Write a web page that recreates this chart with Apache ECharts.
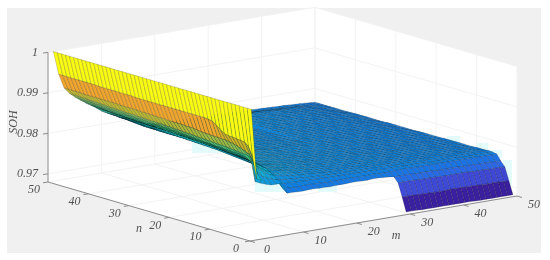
<!DOCTYPE html>
<html>
<head>
<meta charset="utf-8">
<style>html,body{margin:0;padding:0;background:#fff}#main{width:550px;height:260px}</style>
<script src="https://cdn.jsdelivr.net/npm/echarts@6/dist/echarts.min.js"></script>
</head>
<body>
<div id="main"></div>
<script>
const _ = null;
const mTicks = [0, 10, 20, 30, 40, 50];
const nTicks = [0, 10, 20, 30, 40, 50];
const sohTicks = [0.97, 0.98, 0.99, 1];
const sohTickLabels = ["0.97", "0.98", "0.99", "1"];
const sohBase = 0.96; // table below is in 1e-4 above this
const sohFloor = 0.968;
const sohTop = 1;
const parula = ["#3a1f9e", "#3f58e8", "#0c80e2", "#10b0d6", "#37c88a", "#c8b428", "#ffa030", "#f9fb14"];

// one row per n (1..50), one column per m (1..50)
const sohTable = [
[400,226,220,_,_,_,_,_,_,_, _,_,_,_,_,_,_,_,_,_, _,_,_,_,_,_,_,_,_,82, 82,82,81,81,81,81,81,81,81,81, 81,81,80,80,80,80,80,80,80,80],
[400,278,231,_,_,_,_,_,_,_, _,_,_,_,_,_,_,_,_,_, _,_,_,_,_,_,_,_,_,116, 116,116,115,115,115,114,114,114,115,115, 115,114,114,114,113,113,113,113,112,112],
[400,300,258,_,_,_,_,_,_,_, _,_,_,_,_,_,_,_,_,_, _,_,_,_,_,_,_,_,_,148, 148,148,148,147,147,147,147,146,146,146, 146,146,146,145,145,145,144,144,144,143],
[400,309,275,206,200,195,191,191,191,164, 164,163,163,164,164,163,163,162,163,163, 163,164,164,163,163,164,164,163,162,160, 160,160,160,159,159,159,159,158,158,158, 158,158,157,157,157,156,156,156,155,155],
[400,310,280,262,226,212,205,200,197,172, 172,171,171,172,172,171,171,170,170,170, 170,171,171,170,170,170,171,170,169,169, 171,171,171,170,170,170,170,170,170,170, 170,170,170,170,170,170,169,169,169,169],
[400,311,284,266,245,228,218,210,204,182, 180,180,179,179,178,178,177,177,177,176, 176,176,176,176,175,175,175,175,175,174, 174,174,174,173,173,173,173,172,172,172, 172,172,172,171,171,171,171,171,171,171],
[400,312,287,267,250,236,225,217,210,190, 187,185,184,183,182,181,180,180,179,179, 178,178,178,178,177,177,177,177,176,176, 176,175,175,175,175,174,174,174,174,173, 173,173,173,172,172,172,172,172,172,172],
[400,313,290,268,255,242,232,224,216,198, 194,191,189,187,186,185,184,183,182,181, 180,180,179,179,179,178,178,178,177,177, 177,176,176,176,175,175,175,175,174,174, 174,174,173,173,173,173,172,172,172,171],
[400,315,292,269,257,245,235,227,219,202, 197,194,192,190,188,187,186,184,183,182, 181,181,180,180,179,179,178,178,178,177, 177,177,176,176,176,175,175,175,174,174, 174,174,173,173,173,172,172,172,171,171],
[400,322,294,270,258,248,238,230,222,205, 199,197,195,192,190,188,187,186,184,183, 182,181,181,180,180,179,179,179,178,178, 178,177,177,176,176,176,175,175,175,174, 174,174,173,173,173,172,172,172,171,171],
[400,330,294,271,258,248,239,231,223,208, 201,198,196,193,191,189,188,187,185,184, 183,182,181,181,180,180,179,179,179,178, 178,177,177,177,176,176,176,175,175,175, 174,174,174,173,173,172,172,172,171,170],
[400,337,295,272,259,249,240,232,224,210, 203,199,197,194,192,190,189,187,186,185, 183,183,182,181,181,180,180,179,179,178, 178,178,177,177,176,176,176,175,175,175, 174,174,174,173,173,172,172,171,171,170],
[400,339,295,272,259,250,240,233,225,213, 205,200,198,195,193,191,190,188,187,185, 184,183,182,182,181,181,180,180,179,179, 178,178,177,177,177,176,176,175,175,175, 174,174,173,173,173,172,172,171,171,170],
[400,340,296,273,260,251,241,234,226,215, 206,201,198,196,194,192,190,189,187,186, 185,184,183,182,181,181,180,180,179,179, 179,178,178,177,177,176,176,176,175,175, 174,174,173,173,172,172,172,171,171,170],
[400,340,296,274,260,252,242,235,227,218, 207,202,199,196,194,192,191,189,188,186, 185,184,183,182,182,181,181,180,180,179, 179,178,178,177,177,176,176,175,175,175, 174,174,173,173,172,172,171,171,171,170],
[400,340,297,274,261,252,243,236,228,219, 208,203,199,197,195,193,191,190,188,187, 185,184,183,183,182,181,181,180,180,179, 179,178,178,177,177,176,176,175,175,174, 174,174,173,173,172,172,171,171,170,170],
[400,340,298,275,262,253,243,236,229,220, 209,204,200,197,195,193,192,190,188,187, 186,185,184,183,182,182,181,180,180,179, 179,178,178,177,177,176,176,175,175,174, 174,173,173,172,172,172,171,171,170,170],
[400,340,300,275,262,254,244,237,230,221, 210,205,200,198,196,194,192,191,189,187, 186,185,184,183,182,182,181,181,180,180, 179,178,178,177,177,176,176,175,175,174, 174,173,173,172,172,171,171,171,170,170],
[400,340,300,276,263,254,245,238,231,222, 211,206,201,198,196,194,193,191,189,188, 186,185,184,183,183,182,181,181,180,180, 179,179,178,177,177,176,176,175,175,174, 174,173,173,172,172,171,171,170,170,169],
[400,340,300,277,264,255,245,239,232,224, 212,207,202,199,197,195,193,191,190,188, 187,185,184,184,183,182,182,181,180,180, 179,179,178,178,177,176,176,175,175,174, 174,173,173,172,172,171,171,170,170,169],
[400,340,301,277,265,255,246,240,233,225, 213,208,203,199,197,195,194,192,190,188, 187,186,185,184,183,182,182,181,180,180, 179,179,178,178,177,177,176,175,175,174, 174,173,173,172,172,171,171,170,170,169],
[400,340,301,278,265,256,246,240,234,226, 214,209,203,200,198,196,194,192,190,189, 187,186,185,184,183,183,182,181,181,180, 180,179,178,178,177,177,176,176,175,174, 174,173,173,172,172,171,171,170,170,169],
[400,340,301,279,266,256,247,241,234,227, 215,210,204,200,198,196,194,193,191,189, 188,186,185,184,184,183,182,182,181,180, 180,179,179,178,177,177,176,176,175,175, 174,173,173,172,172,171,171,170,170,169],
[400,340,301,279,267,257,248,241,235,228, 215,211,204,201,199,197,195,193,191,190, 188,187,186,185,184,183,183,182,181,181, 180,179,179,178,178,177,176,176,175,175, 174,174,173,172,172,171,171,170,170,169],
[400,340,302,280,268,258,248,242,236,230, 216,212,205,201,199,197,195,193,192,188, 187,186,185,184,184,183,183,182,181,181, 180,180,179,178,178,177,177,176,175,175, 174,174,173,173,172,171,171,170,170,168],
[400,340,302,280,268,258,249,242,236,230, 216,212,205,201,199,197,195,193,191,188, 187,186,185,184,183,183,182,182,181,181, 180,180,179,178,178,177,177,176,176,175, 174,174,173,173,172,172,171,170,170,168],
[400,340,302,281,269,259,249,243,237,230, 217,212,205,202,199,197,195,193,191,188, 186,185,184,184,183,183,182,181,181,180, 181,180,179,179,178,177,177,176,176,175, 175,174,173,173,172,172,171,170,169,168],
[400,340,303,281,269,259,249,243,237,231, 217,213,206,202,199,197,195,193,191,187, 186,185,184,184,183,182,182,181,181,180, 181,180,179,179,178,178,177,176,176,175, 175,174,173,173,172,172,171,170,169,168],
[400,340,303,282,270,260,250,244,238,231, 218,213,206,202,199,197,195,192,190,187, 186,185,184,183,183,182,182,181,181,180, 181,180,180,179,178,178,177,177,176,175, 175,174,174,173,172,172,171,170,169,168],
[400,340,303,282,270,260,250,244,238,231, 218,213,206,202,199,197,195,192,190,187, 186,185,184,183,183,182,181,181,180,180, 181,180,180,179,179,178,177,177,176,175, 175,174,174,173,173,172,171,170,169,168],
[400,340,303,282,271,261,251,245,238,232, 219,214,206,203,199,196,194,192,190,187, 186,185,184,183,182,182,181,181,180,180, 181,181,180,179,179,178,178,177,176,176, 175,174,174,173,173,172,171,170,169,168],
[400,341,304,283,271,261,251,245,239,232, 219,214,207,203,199,196,194,191,189,187, 185,184,184,183,182,182,181,180,180,180, 182,181,180,180,179,178,178,177,176,176, 175,175,174,173,173,172,171,170,169,168],
[400,341,304,283,272,262,252,246,239,232, 220,215,207,203,199,196,193,191,189,186, 185,184,183,183,182,181,181,180,180,179, 182,181,180,180,179,178,178,177,177,176, 175,175,174,173,173,172,171,170,169,167],
[400,341,304,284,272,262,252,246,239,232, 220,215,207,203,199,196,193,191,188,186, 185,184,183,182,182,181,181,180,180,179, 182,181,181,180,179,179,178,177,177,176, 175,175,174,174,173,172,171,170,169,167],
[400,341,304,284,272,262,252,246,239,232, 220,215,207,203,199,196,193,190,188,186, 185,184,183,182,182,181,180,180,179,179, 182,182,181,180,179,179,178,178,177,176, 176,175,174,174,173,172,171,170,169,167],
[400,341,304,284,273,263,253,246,239,232, 221,215,207,203,198,195,192,190,188,185, 184,183,183,182,181,181,180,180,179,179, 183,182,181,180,180,179,178,178,177,176, 176,175,174,174,173,172,171,170,169,167],
[400,341,305,285,273,263,253,247,240,232, 221,216,207,202,198,195,192,190,187,185, 184,183,182,182,181,181,180,179,179,179, 183,182,181,181,180,179,178,178,177,177, 176,175,175,174,173,172,171,170,169,167],
[400,341,305,285,274,264,254,247,240,232, 222,216,207,202,198,194,192,189,187,184, 184,183,182,181,181,180,180,179,179,178, 183,182,182,181,180,179,179,178,177,177, 176,175,175,174,173,172,171,170,168,167],
[400,341,305,286,274,264,254,248,240,232, 222,216,207,202,198,194,191,189,186,184, 183,183,182,181,181,180,179,179,178,178, 183,183,182,181,180,180,179,178,178,177, 176,175,175,174,173,172,171,170,168,167],
[400,341,305,286,275,264,254,248,240,232, 222,216,207,202,198,194,191,189,186,184, 183,182,182,181,180,180,179,179,178,178, 184,183,182,181,181,180,179,178,178,177, 176,176,175,174,173,172,171,170,168,167],
[400,342,305,287,275,265,255,248,241,232, 223,217,208,202,198,194,191,188,186,183, 183,182,181,181,180,180,179,178,178,178, 184,183,182,182,181,180,179,179,178,177, 176,176,175,174,173,172,171,170,168,167],
[400,342,305,287,276,265,255,249,241,233, 223,217,208,202,197,194,190,188,185,183, 182,182,181,180,180,179,179,178,178,177, 184,183,183,182,181,180,179,179,178,177, 177,176,175,174,173,172,171,170,168,166],
[400,342,305,288,276,266,256,249,241,233, 224,217,208,202,197,193,190,187,185,183, 182,181,181,180,180,179,178,178,177,177, 184,184,183,182,181,180,180,179,178,177, 177,176,175,174,173,172,171,169,168,166],
[400,342,305,288,277,266,256,249,242,233, 224,218,209,202,197,193,190,187,184,182, 182,181,180,180,179,179,178,178,177,177, 185,184,183,182,181,181,180,179,178,178, 177,176,175,174,173,172,170,169,168,166],
[400,342,305,288,277,267,257,250,242,233, 225,218,209,202,197,193,190,187,184,182, 181,181,180,180,179,179,178,177,177,177, 185,184,183,182,182,181,180,179,178,178, 177,176,175,174,173,172,170,169,168,166],
[400,342,306,289,278,267,258,250,242,233, 225,219,210,204,199,194,190,187,184,182, 181,180,180,179,179,178,178,177,177,176, 184,184,183,183,182,181,180,179,179,178, 177,176,175,174,173,172,170,169,168,166],
[400,342,306,289,278,268,258,251,243,233, 225,219,211,205,200,195,190,187,184,182, 181,180,180,179,178,178,177,177,177,176, 183,183,183,182,181,180,180,179,178,177, 176,175,175,174,173,171,170,169,168,166],
[400,342,306,290,278,268,259,251,243,233, 226,219,212,206,201,195,191,187,184,181, 180,180,179,179,178,178,177,177,176,176, 179,179,178,177,177,176,176,175,175,174, 173,173,172,171,171,170,169,168,167,166],
[400,342,306,290,279,269,259,252,243,233, 226,220,212,207,201,196,191,186,183,181, 180,179,179,178,178,177,177,176,176,176, 177,176,176,176,175,175,174,173,173,173, 172,171,171,171,170,169,168,168,167,166],
[400,342,306,290,279,269,260,252,243,233, 226,220,213,208,202,196,191,186,183,181, 180,179,179,178,178,177,177,176,176,175, 177,177,176,176,175,175,174,174,173,173, 172,172,171,171,170,169,169,168,167,166]
];

// oblique view of the box, in axis units of the flat hidden axes
const origin = [250, 241];
const mStep = [5.34, -0.9];
const nStep = [-4.04, -1.18];
const sohStep = -4050;

const project = (m, n, soh) => [
    origin[0] + m * mStep[0] + n * nStep[0],
    origin[1] + m * mStep[1] + n * nStep[1] + (soh - sohFloor) * sohStep
];
const sohAt = (m, n) => {
    let v = sohTable[n - 1][m - 1];
    return v === null ? null : sohBase + v / 10000;
};
const colorOf = (soh) => echarts.color.lerp(Math.min(1, Math.max(0, (soh - sohFloor) / (sohTop - sohFloor))), parula);

let cells = [];
for (let m = 49; m >= 1; m--) {
    for (let n = 49; n >= 1; n--) {
        if (sohAt(m, n) !== null && sohAt(m + 1, n) !== null && sohAt(m, n + 1) !== null && sohAt(m + 1, n + 1) !== null) {
            cells.push([m, n]);
        }
    }
}

const segment = (api, a, b, color, width) => {
    let p = api.coord(a), q = api.coord(b);
    return { type: "line", shape: { x1: p[0], y1: p[1], x2: q[0], y2: q[1] }, style: { stroke: color, lineWidth: width } };
};
const label = (api, pos, text, opts, align) => {
    let p = api.coord(pos);
    return Object.assign({
        type: "text", x: p[0], y: p[1],
        style: { text: text, font: "italic 12px 'Liberation Serif'", fill: "#505050", align: align || "center", verticalAlign: "middle" }
    }, opts || {});
};
const rect = (api, x0, y0, x1, y1, fill) => {
    let a = api.coord([x0, y0]), b = api.coord([x1, y1]);
    return { type: "rect", shape: { x: a[0], y: a[1], width: b[0] - a[0], height: b[1] - a[1] }, style: { fill: fill } };
};

const renderFrame = (params, api) => {
    const gridColor = "#f3f3f3", axisColor = "#8c8c8c", haloColor = "#e4fbfb";
    let kids = [];
    kids.push(rect(api, 7, 8, 541, 253, "#f0f0f0"));
    let box = [project(0, 50, sohTop), project(50, 50, sohTop), project(50, 0, sohTop), project(50, 0, sohFloor), project(0, 0, sohFloor), project(0, 50, sohFloor)];
    kids.push({ type: "polygon", shape: { points: box.map(p => api.coord(p)) }, style: { fill: "#fff" } });

    sohTicks.forEach(s => {
        kids.push(segment(api, project(0, 50, s), project(50, 50, s), gridColor, 1));
        kids.push(segment(api, project(50, 50, s), project(50, 0, s), gridColor, 1));
    });
    mTicks.forEach(m => {
        kids.push(segment(api, project(m, 0, sohFloor), project(m, 50, sohFloor), gridColor, 1));
        kids.push(segment(api, project(m, 50, sohFloor), project(m, 50, sohTop), gridColor, 1));
    });
    nTicks.forEach(n => {
        kids.push(segment(api, project(0, n, sohFloor), project(50, n, sohFloor), gridColor, 1));
        kids.push(segment(api, project(50, n, sohFloor), project(50, n, sohTop), gridColor, 1));
    });

    // pale fringe the source image has around the mesh
    kids.push(rect(api, 192, 138, 224, 153, haloColor));
    kids.push(rect(api, 207, 146, 241, 153, haloColor));
    kids.push(rect(api, 240, 150, 251, 158, haloColor));
    kids.push(rect(api, 255, 180, 303, 192, haloColor));
    kids.push(rect(api, 318, 185, 337, 192, haloColor));
    kids.push(rect(api, 447, 136, 460, 143, haloColor));
    kids.push(rect(api, 477, 143, 488, 151, haloColor));
    kids.push(rect(api, 490, 150, 502, 158, haloColor));
    kids.push(rect(api, 503, 160, 512, 185, haloColor));

    kids.push(segment(api, project(0, 50, sohFloor), project(0, 50, sohTop), axisColor, 1));
    kids.push(segment(api, project(0, 50, sohFloor), project(0, 0, sohFloor), axisColor, 1));
    kids.push(segment(api, project(0, 0, sohFloor), project(50, 0, sohFloor), axisColor, 1));

    sohTicks.forEach((s, i) => {
        let p = project(0, 50, s);
        kids.push(segment(api, p, [p[0] - 5, p[1] + 0.6], axisColor, 1));
        kids.push(label(api, [p[0] - 10, p[1]], sohTickLabels[i], null, "right"));
    });
    nTicks.forEach(n => {
        let p = project(0, n, sohFloor);
        kids.push(segment(api, p, [p[0] - 5, p[1] + 0.8], axisColor, 1));
        kids.push(label(api, [p[0] - 14, p[1] + 8], String(n)));
    });
    mTicks.forEach(m => {
        let p = project(m, 0, sohFloor);
        kids.push(segment(api, p, [p[0] + 5, p[1] + 1.5], axisColor, 1));
        kids.push(label(api, [p[0] + 17, p[1] + 9], String(m)));
    });

    kids.push(label(api, [139, 229], "n"));
    kids.push(label(api, [396, 236], "m"));
    kids.push(label(api, [14, 122], "SOH", { rotation: Math.PI / 2 }));
    return { type: "group", children: kids };
};

const renderCell = (params, api) => {
    let m = api.value(0), n = api.value(1);
    let corners = [[m, n], [m + 1, n], [m + 1, n + 1], [m, n + 1]];
    return {
        type: "polygon",
        shape: { points: corners.map(c => api.coord(project(c[0], c[1], sohAt(c[0], c[1])))) },
        style: { fill: colorOf(sohAt(m, n)), stroke: "rgba(0,0,0,0.33)", lineWidth: 0.5 }
    };
};

const myChart = echarts.init(document.getElementById("main"), null, { renderer: "canvas" });
myChart.setOption({
    animation: false,
    backgroundColor: "#fff",
    grid: { left: 0, right: 0, top: 0, bottom: 0 },
    xAxis: { type: "value", min: 0, max: 550, show: false },
    yAxis: { type: "value", min: 0, max: 260, inverse: true, show: false },
    series: [
        { type: "custom", silent: true, z: 1, clip: false, data: [[0, 0]], renderItem: renderFrame },
        { type: "custom", silent: true, z: 2, clip: false, progressive: 0, data: cells, renderItem: renderCell }
    ]
});
</script>
</body>
</html>
